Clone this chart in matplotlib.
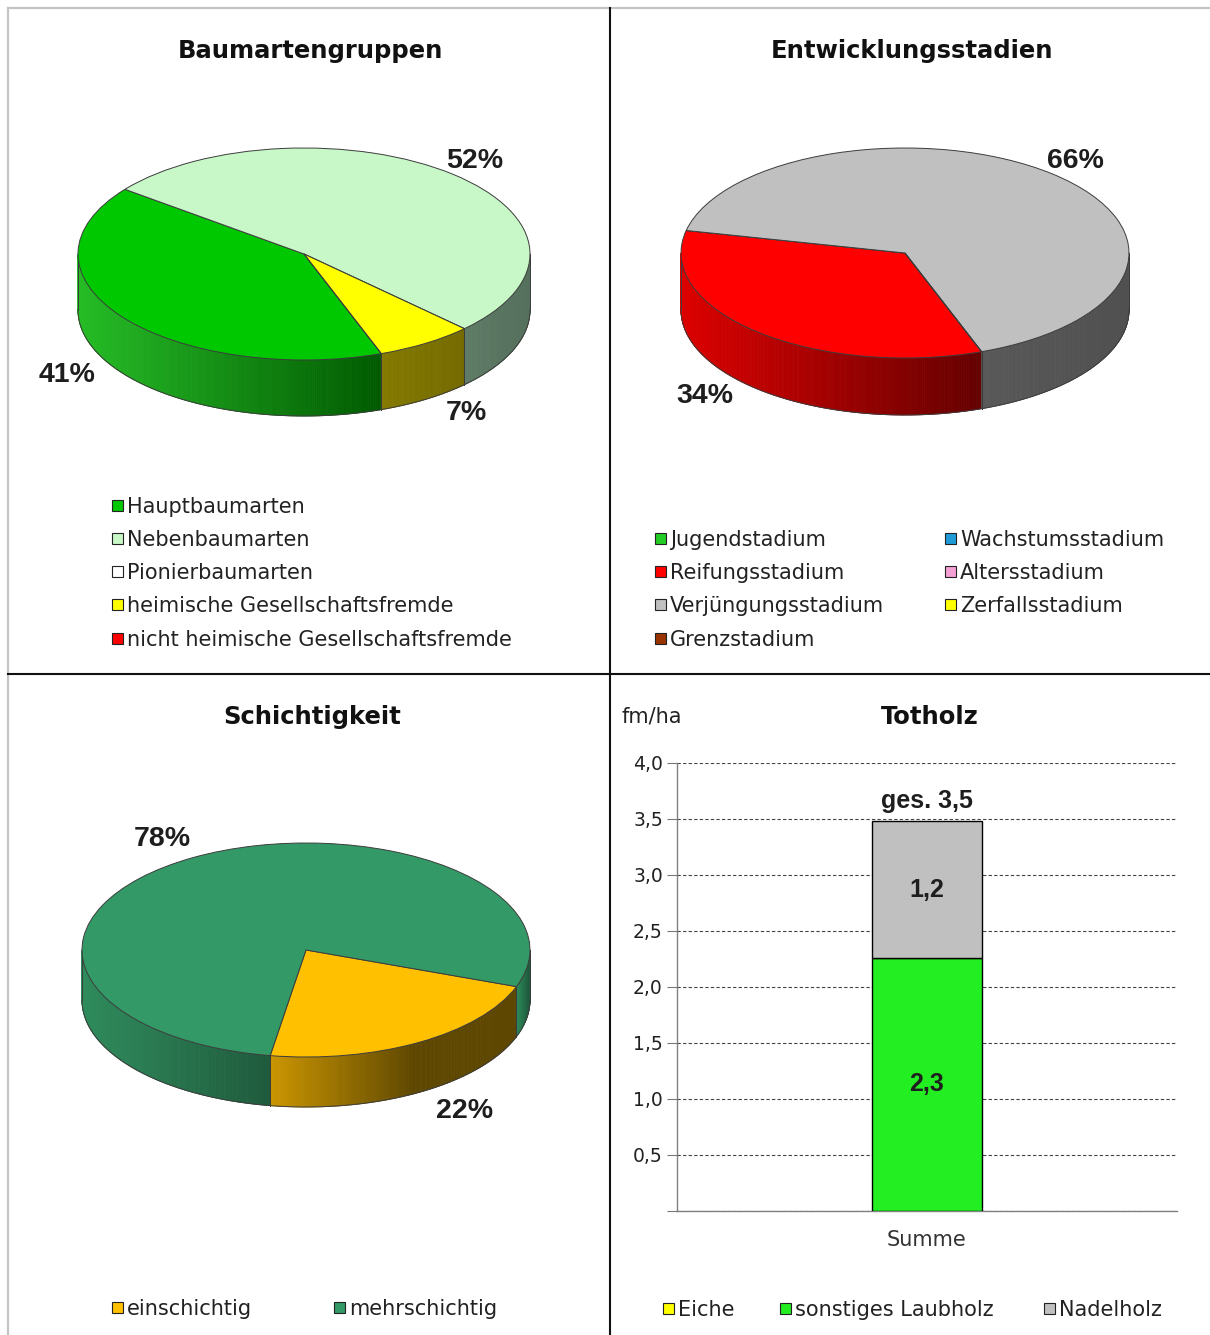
import numpy as np
import matplotlib
matplotlib.use("Agg")
import matplotlib.pyplot as plt
from matplotlib.collections import PolyCollection
from matplotlib.patches import Rectangle
from matplotlib.colors import to_rgb

# ---------------- data ----------------
baum_title = "Baumartengruppen"
baum_labels = ["Hauptbaumarten", "Nebenbaumarten", "Pionierbaumarten",
               "heimische Gesellschaftsfremde", "nicht heimische Gesellschaftsfremde"]
baum_values = [41, 52, 0, 7, 0]
baum_colors = ["#00c800", "#c8f8c8", "#ffffff", "#ffff00", "#ff0000"]

stad_title = "Entwicklungsstadien"
stad_labels = ["Jugendstadium", "Wachstumsstadium", "Reifungsstadium", "Altersstadium",
               "Verjüngungsstadium", "Zerfallsstadium", "Grenzstadium"]
stad_values = [0, 0, 34, 0, 66, 0, 0]
stad_colors = ["#22cc22", "#1f9bd7", "#ff0000", "#f4a0d4", "#c0c0c0", "#ffff00", "#993300"]

schicht_title = "Schichtigkeit"
schicht_labels = ["einschichtig", "mehrschichtig"]
schicht_values = [22, 78]
schicht_colors = ["#ffc000", "#339966"]

tot_title = "Totholz"
tot_unit = "fm/ha"
tot_category = ["Summe"]
tot_labels = ["Eiche", "sonstiges Laubholz", "Nadelholz"]
tot_values = [0.0, 2.26, 1.22]
tot_colors = ["#ffff00", "#22ee22", "#c0c0c0"]
tot_yticks = [0.0, 0.5, 1.0, 1.5, 2.0, 2.5, 3.0, 3.5, 4.0]

# ---------------- style ----------------
plt.rcParams["font.family"] = ["DejaVu Sans"]
W, H = 1210, 1335
fig = plt.figure(figsize=(W / 100, H / 100), dpi=100)
fig.patch.set_facecolor("white")

PCT_FONT = ["Liberation Sans Narrow", "Liberation Sans", "DejaVu Sans"]
EDGE = "#3c3c3c"


def px_axes(box, **kw):
    x0, y0, x1, y1 = box
    return fig.add_axes([x0 / W, 1 - y1 / H, (x1 - x0) / W, (y1 - y0) / H], **kw)


def fmt_de(v):
    return f"{v:.1f}".replace(".", ",")


def pie3d(box, cx, cy, rx, ry, depth, values, colors, sides, startangle):
    ax = px_axes(box)
    wedges, _ = ax.pie(values, colors=colors, startangle=startangle, counterclock=False,
                       frame=False,
                       wedgeprops=dict(edgecolor=EDGE, linewidth=0.7, zorder=3))
    d = depth / ry
    verts, cols, bounds = [], [], []
    for w, v, (cl, cd, k) in zip(wedges, values, sides):
        if v <= 0:
            continue
        t1, t2 = w.theta1, w.theta2
        bounds += [t1, t2]
        for sh in (-360, 0, 360, 720):
            a, b = max(t1 + sh, 180), min(t2 + sh, 360)
            if b - a <= 0:
                continue
            ang = np.radians(np.linspace(a, b, max(3, int(b - a) * 2 + 2)))
            xs, ys = np.cos(ang), np.sin(ang)
            xmin, xmax = xs.min(), xs.max()
            for i in range(len(ang) - 1):
                quad = [(xs[i], ys[i]), (xs[i + 1], ys[i + 1]),
                        (xs[i + 1], ys[i + 1] - d), (xs[i], ys[i] - d)]
                xm = 0.5 * (xs[i] + xs[i + 1])
                f = min(1.0, (xm - xmin) / (xmax - xmin + 1e-9) * k)
                col = (1 - f) * np.array(to_rgb(cl)) + f * np.array(to_rgb(cd))
                verts.append(quad)
                cols.append(col)
    ax.add_collection(PolyCollection(verts, facecolors=cols, edgecolors=cols,
                                     linewidths=0.6, zorder=1), autolim=False)
    tt = np.radians(np.linspace(180, 360, 300))
    ax.plot(np.cos(tt), np.sin(tt) - d, color=EDGE, lw=0.7, zorder=2)
    edges = [180, 360] + [b % 360 for b in bounds if 180 < (b % 360) < 360]
    for t in edges:
        r = np.radians(t)
        ax.plot([np.cos(r)] * 2, [np.sin(r), np.sin(r) - d], color=EDGE, lw=0.7, zorder=2)
    x0, y0, x1, y1 = box
    ax.set_xlim((x0 - cx) / rx, (x1 - cx) / rx)
    ax.set_ylim((cy - y1) / ry, (cy - y0) / ry)
    ax.set_aspect("auto")
    ax.axis("off")
    return ax


# side shading (light, dark, speed) per slice
baum_sides = [("#26bd26", "#005a00", 1.0), ("#5e7b66", "#55705c", 1.0), ("#999999", "#777777", 1.0),
              ("#847a00", "#746a00", 1.0), ("#aa0000", "#660000", 1.0)]
stad_sides = [("#22aa22", "#115511", 1.0), ("#1f7aa0", "#104060", 1.0), ("#dd0000", "#640000", 1.0),
              ("#b07090", "#704060", 1.0), ("#585858", "#505050", 1.0), ("#888800", "#666600", 1.0),
              ("#772200", "#441100", 1.0)]
schicht_sides = [("#cc9600", "#5e4700", 1.7), ("#2f8c5c", "#1e5a3c", 1.0)]

pie3d((10, 80, 608, 470), 304, 254, 226, 106, 56, baum_values, baum_colors, baum_sides, -70)
pie3d((612, 80, 1208, 470), 905, 253, 224, 105, 57, stad_values, stad_colors, stad_sides, -70)
pie3d((10, 760, 608, 1160), 306, 950, 224, 107, 50, schicht_values, schicht_colors, schicht_sides, -20)

# ---------------- bar chart ----------------
axb = px_axes((677, 763, 1177, 1211))
bottom = 0.0
for lbl, v, c in zip(tot_labels, tot_values, tot_colors):
    if v > 0:
        axb.bar(0, v, width=0.22, bottom=bottom, color=c, edgecolor="black", linewidth=1.0, zorder=3)
        axb.text(0, bottom + v / 2, fmt_de(v), ha="center", va="center", fontsize=18,
                 fontweight="bold", family=["Liberation Sans", "DejaVu Sans"], color="#1e1e1e", zorder=4)
    bottom += v
axb.annotate("ges. " + fmt_de(bottom), xy=(0, bottom), xytext=(0, 6), textcoords="offset points",
             ha="center", va="bottom", fontsize=18, fontweight="bold",
             family=["Liberation Sans", "DejaVu Sans"], color="#1e1e1e")
axb.set_xlim(-0.5, 0.5)
axb.set_ylim(0, 4)
axb.set_yticks(tot_yticks)
axb.set_yticklabels(["" if t == 0 else fmt_de(t) for t in tot_yticks])
axb.set_xticks([0])
axb.set_xticklabels(tot_category)
axb.tick_params(axis="y", length=7.2, width=0.8, color="#777777", labelsize=13.5, pad=3,
                labelcolor="#222222")
axb.tick_params(axis="x", length=0, labelsize=15, pad=14, labelcolor="#333333")
axb.yaxis.grid(True, color="#444444", linestyle=(0, (3, 2)), linewidth=0.8)
axb.set_axisbelow(True)
for s in ("top", "right"):
    axb.spines[s].set_visible(False)
for s in ("left", "bottom"):
    axb.spines[s].set_color("#808080")
    axb.spines[s].set_linewidth(1.0)
axb.patch.set_alpha(0)

# ---------------- overlay: frame, titles, labels, legends ----------------
ov = fig.add_axes([0, 0, 1, 1])
ov.set_xlim(0, W)
ov.set_ylim(H, 0)
ov.axis("off")
ov.patch.set_alpha(0)

ov.plot([8, W], [8, 8], color="#c4c4c4", lw=1.6)
ov.plot([8, 8], [8, H], color="#c4c4c4", lw=1.6)
ov.plot([610, 610], [8, H], color="#111111", lw=1.5)
ov.plot([8, W], [673.5, 673.5], color="#111111", lw=1.5)

for t, x, y in [(baum_title, 310, 58), (stad_title, 912, 58), (schicht_title, 312, 724), (tot_title, 930, 724)]:
    ov.text(x, y, t, ha="center", va="baseline", fontsize=17.5, fontweight="bold", color="#111111")
ov.text(621, 723, tot_unit, ha="left", va="baseline", fontsize=15, color="#222222")

# percentage labels
baum_pct_pos = [(67, 382), (475, 168), None, (466, 420), None]
stad_pct_pos = [None, None, (705, 403), None, (1075, 168), None, None]
schicht_pct_pos = [(465, 1118), (162, 846)]
for vals, poss in [(baum_values, baum_pct_pos), (stad_values, stad_pct_pos), (schicht_values, schicht_pct_pos)]:
    for v, p in zip(vals, poss):
        if v > 0 and p is not None:
            ov.text(p[0], p[1], f"{v}%", ha="center", va="baseline", fontsize=20.5,
                    fontweight="bold", family=PCT_FONT, color="#1e1e1e")


def legend(labels, colors, positions):
    for lbl, col, (mx, cy) in zip(labels, colors, positions):
        ov.add_patch(Rectangle((mx, cy - 5.5), 11, 11, facecolor=col, edgecolor="#222222", lw=0.8))
        ov.text(mx + 15, cy + 7.6, lbl, ha="left", va="baseline", fontsize=15, color="#222222")


legend(baum_labels, baum_colors, [(112, 505 + 33.3 * i) for i in range(len(baum_labels))])
legend(stad_labels, stad_colors,
       [((655, 945)[i % 2], 538 + 33.4 * (i // 2)) for i in range(len(stad_labels))])
legend(schicht_labels, schicht_colors, [(112, 1307), (334, 1307)])
legend(tot_labels, tot_colors, [(663, 1308), (780, 1308), (1044, 1308)])

fig.savefig("out.png", dpi=100)
